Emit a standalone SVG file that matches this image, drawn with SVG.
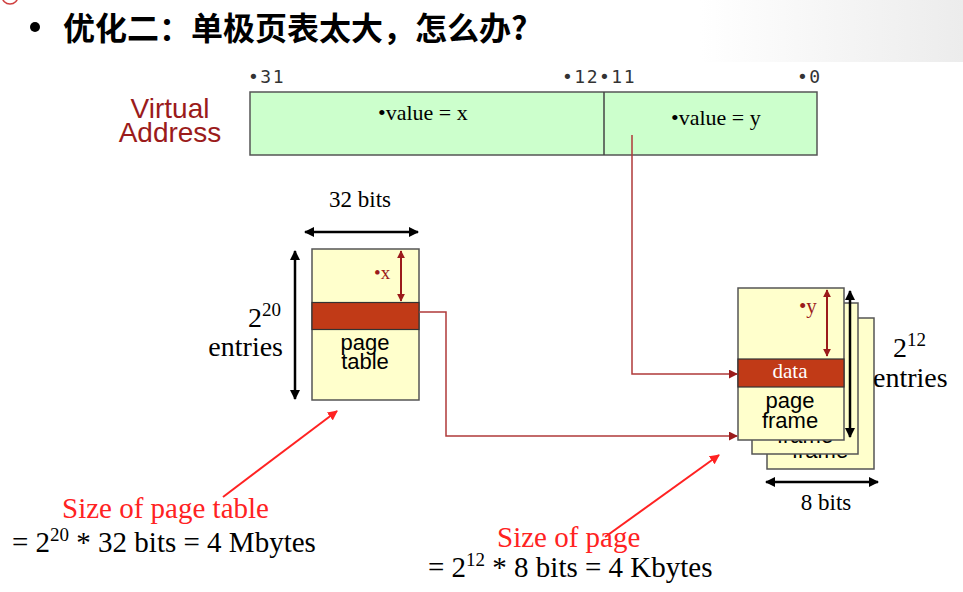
<svg xmlns="http://www.w3.org/2000/svg" width="963" height="592" viewBox="0 0 963 592">
<style>
.serif{font-family:"Liberation Serif","Times New Roman",serif}
.sans{font-family:"Liberation Sans",Arial,sans-serif}
.mono{font-family:"DejaVu Sans Mono",monospace;font-size:18px;fill:#333;letter-spacing:1.5px}
.box{stroke:#555;stroke-width:1.5}
.yellow{fill:#ffffcc}
.band{fill:#c13a17;stroke:#333;stroke-width:1.2}
.blk{stroke:#000;stroke-width:2.5;fill:none}
.dred{stroke:#9b1b1b;stroke-width:2;fill:none}
.conn{stroke:#b03a3a;stroke-width:1.5;fill:none}
.ann{stroke:#ff2222;stroke-width:2;fill:none}
</style>
<defs>
<marker id="hb" viewBox="0 0 10 10" refX="9" refY="5" markerWidth="4" markerHeight="4" orient="auto-start-reverse" markerUnits="strokeWidth"><path d="M0,0L10,5L0,10z" fill="#000"/></marker>
<marker id="hr" viewBox="0 0 10 10" refX="9" refY="5" markerWidth="4" markerHeight="4" orient="auto-start-reverse" markerUnits="strokeWidth"><path d="M0,0L10,5L0,10z" fill="#9b1b1b"/></marker>
<marker id="hc" viewBox="0 0 10 10" refX="9" refY="5" markerWidth="6" markerHeight="6" orient="auto" markerUnits="strokeWidth"><path d="M0,0L10,5L0,10z" fill="#9b1b1b"/></marker>
<marker id="ha" viewBox="0 0 10 10" refX="9" refY="5" markerWidth="5" markerHeight="5" orient="auto" markerUnits="strokeWidth"><path d="M0,0L10,5L0,10z" fill="#ff2222"/></marker>
<linearGradient id="bg" x1="0" y1="0" x2="1" y2="0"><stop offset="0" stop-color="#ffffff"/><stop offset="1" stop-color="#ececec"/></linearGradient>
</defs>
<rect width="963" height="592" fill="#fff"/>
<rect x="700" y="0" width="263" height="62" fill="url(#bg)"/>
<circle cx="10" cy="-4" r="8" fill="none" stroke="#d04040" stroke-width="1.5"/>

<g id="title">
<circle cx="35" cy="27" r="5" fill="#000"/>
<text x="63" y="40" font-family="'Noto Sans CJK SC',sans-serif" font-weight="bold" font-size="32" fill="#000">优化二：单极页表太大，怎么办?</text>
</g>

<g id="virtual-address">
<text class="sans" x="170" y="118" font-size="28" fill="#9b1b1b" text-anchor="middle">Virtual</text>
<text class="sans" x="170" y="142" font-size="28" fill="#9b1b1b" text-anchor="middle">Address</text>
<text class="mono" x="248" y="83">•31</text>
<text class="mono" x="562" y="83">•12•11</text>
<text class="mono" x="797" y="83">•0</text>
<rect x="250" y="92" width="567" height="63" fill="#ccffcc" class="box"/>
<line x1="604" y1="92" x2="604" y2="155" stroke="#444" stroke-width="1.5"/>
<text class="serif" x="378" y="120" font-size="22">•value = x</text>
<text class="serif" x="671" y="125" font-size="22">•value = y</text>
</g>

<g id="page-table">
<text class="serif" x="360" y="207" font-size="23" text-anchor="middle">32 bits</text>
<line x1="305" y1="232" x2="418" y2="232" class="blk" marker-start="url(#hb)" marker-end="url(#hb)"/>
<line x1="295" y1="251" x2="295" y2="399" class="blk" marker-start="url(#hb)" marker-end="url(#hb)"/>
<text class="serif" x="248" y="327" font-size="28">2<tspan dy="-11" font-size="19">20</tspan></text>
<text class="serif" x="283" y="356" font-size="28" text-anchor="end">entries</text>
<rect x="312" y="249" width="107" height="151" class="yellow box"/>
<rect x="312" y="302.5" width="107" height="27" class="band"/>
<text class="serif" x="374" y="279" font-size="19" fill="#9b1b1b">•x</text>
<line x1="401" y1="251" x2="401" y2="301" class="dred" marker-start="url(#hr)" marker-end="url(#hr)"/>
<text class="sans" x="365" y="350" font-size="22" text-anchor="middle">page</text>
<text class="sans" x="365" y="369" font-size="22" text-anchor="middle">table</text>
</g>

<g id="page-frames">
<rect x="767" y="318" width="107" height="151" class="yellow box"/>
<text class="sans" x="820" y="458" font-size="22" text-anchor="middle">frame</text>
<rect x="752" y="303" width="106" height="151" class="yellow box"/>
<text class="sans" x="805" y="443" font-size="22" text-anchor="middle">frame</text>
<rect x="738" y="288" width="106" height="152" class="yellow box"/>
<rect x="738" y="359" width="106" height="28" class="band"/>
<text class="serif" x="790" y="378" font-size="21" fill="#fff" text-anchor="middle">data</text>
<text class="sans" x="790" y="408" font-size="22" text-anchor="middle">page</text>
<text class="sans" x="790" y="428" font-size="22" text-anchor="middle">frame</text>
<text class="serif" x="799" y="313" font-size="21" fill="#9b1b1b">•y</text>
<line x1="827" y1="290" x2="827" y2="356" class="dred" marker-start="url(#hr)" marker-end="url(#hr)"/>
<line x1="850" y1="291" x2="850" y2="437" class="blk" marker-start="url(#hb)" marker-end="url(#hb)"/>
<text class="serif" x="893" y="357" font-size="28">2<tspan dy="-11" font-size="19">12</tspan></text>
<text class="serif" x="873" y="387" font-size="28">entries</text>
<line x1="766" y1="482" x2="878" y2="482" class="blk" marker-start="url(#hb)" marker-end="url(#hb)"/>
<text class="serif" x="826" y="510" font-size="23" text-anchor="middle">8 bits</text>
</g>

<g id="connectors">
<path d="M632,135V374H737" class="conn" marker-end="url(#hc)"/>
<path d="M419,312H446V436H737" class="conn" marker-end="url(#hc)"/>
<line x1="223" y1="497" x2="337" y2="411" class="ann" marker-end="url(#ha)"/>
<line x1="605" y1="537" x2="719" y2="455" class="ann" marker-end="url(#ha)"/>
</g>

<g id="annotations">
<text class="serif" x="62" y="518" font-size="29" fill="#ff2222">Size of page table</text>
<text class="serif" x="12" y="552" font-size="29">= 2<tspan dy="-11" font-size="19">20</tspan><tspan dy="11"> * 32 bits = 4 Mbytes</tspan></text>
<text class="serif" x="497" y="547" font-size="29" fill="#ff2222">Size of page</text>
<text class="serif" x="428" y="577" font-size="29">= 2<tspan dy="-11" font-size="19">12</tspan><tspan dy="11"> * 8 bits = 4 Kbytes</tspan></text>
</g>
</svg>
